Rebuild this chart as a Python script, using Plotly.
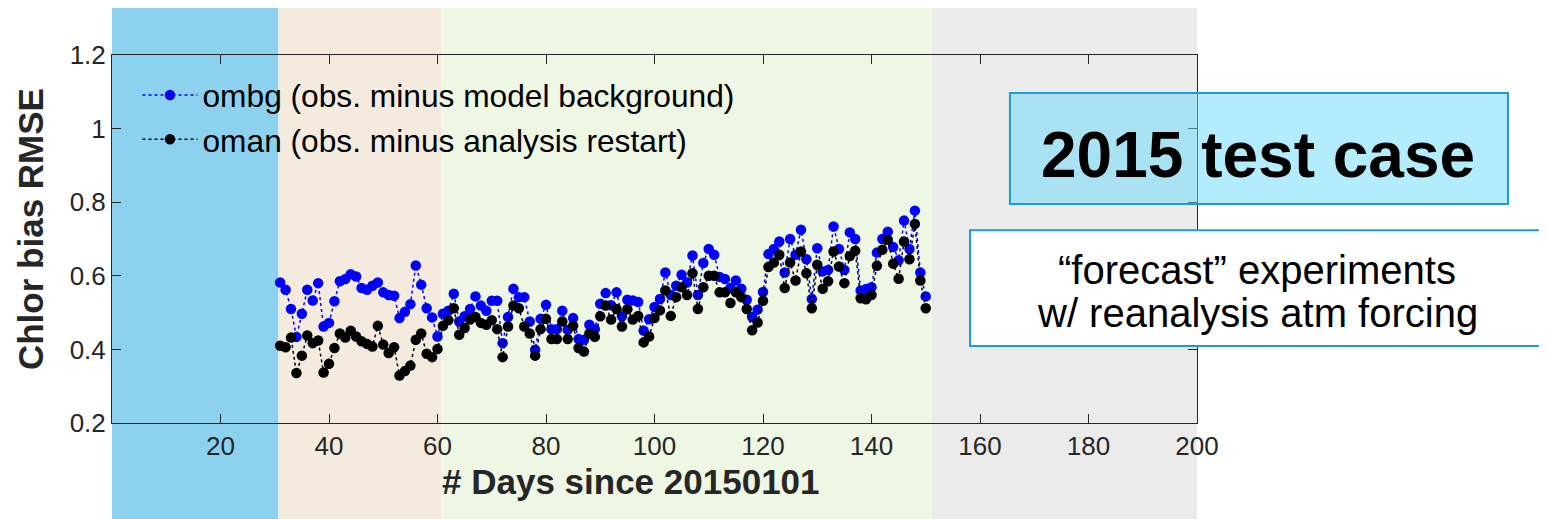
import plotly.graph_objects as go

days = list(range(31, 151))

ombg = [0.582, 0.562, 0.510, 0.434, 0.497, 0.562, 0.533, 0.580, 0.462, 0.472,
        0.531, 0.585, 0.591, 0.604, 0.598, 0.567, 0.562, 0.573, 0.582, 0.555,
        0.548, 0.546, 0.485, 0.502, 0.523, 0.628, 0.576, 0.512, 0.487, 0.435,
        0.497, 0.505, 0.551, 0.476, 0.490, 0.510, 0.544, 0.519, 0.505, 0.532,
        0.532, 0.417, 0.488, 0.565, 0.542, 0.542, 0.476, 0.399, 0.483, 0.521,
        0.455, 0.455, 0.505, 0.453, 0.485, 0.428, 0.426, 0.467, 0.455, 0.524,
        0.553, 0.520, 0.555, 0.490, 0.535, 0.533, 0.529, 0.451, 0.482, 0.515,
        0.537, 0.609, 0.548, 0.573, 0.603, 0.582, 0.655, 0.548, 0.635, 0.673,
        0.657, 0.597, 0.591, 0.567, 0.587, 0.565, 0.535, 0.488, 0.508, 0.556,
        0.659, 0.673, 0.693, 0.609, 0.700, 0.657, 0.725, 0.645, 0.537, 0.675,
        0.612, 0.616, 0.734, 0.673, 0.616, 0.718, 0.700, 0.560, 0.564, 0.569,
        0.663, 0.700, 0.720, 0.678, 0.642, 0.750, 0.673, 0.777, 0.609, 0.544]

oman = [0.410, 0.406, 0.432, 0.336, 0.383, 0.438, 0.417, 0.424, 0.337, 0.361,
        0.404, 0.443, 0.432, 0.451, 0.435, 0.422, 0.415, 0.408, 0.464, 0.413,
        0.390, 0.406, 0.329, 0.341, 0.356, 0.426, 0.443, 0.388, 0.379, 0.401,
        0.464, 0.479, 0.512, 0.440, 0.458, 0.481, 0.488, 0.472, 0.467, 0.479,
        0.455, 0.379, 0.462, 0.519, 0.512, 0.462, 0.443, 0.383, 0.455, 0.483,
        0.428, 0.428, 0.476, 0.428, 0.464, 0.404, 0.394, 0.443, 0.434, 0.490,
        0.519, 0.481, 0.510, 0.462, 0.509, 0.481, 0.491, 0.419, 0.435, 0.485,
        0.506, 0.560, 0.491, 0.542, 0.569, 0.548, 0.607, 0.510, 0.569, 0.600,
        0.600, 0.555, 0.555, 0.526, 0.555, 0.542, 0.510, 0.452, 0.473, 0.532,
        0.624, 0.636, 0.657, 0.567, 0.636, 0.587, 0.666, 0.607, 0.512, 0.630,
        0.565, 0.585, 0.666, 0.625, 0.580, 0.654, 0.668, 0.539, 0.536, 0.548,
        0.627, 0.671, 0.698, 0.633, 0.592, 0.693, 0.645, 0.741, 0.587, 0.512]

band_edges = [0, 30.7, 60.7, 151.1, 200]
band_colors = ["#8CD1EE", "#F4EBDE", "#EEF6E4", "#EBEBEB"]

x_ticks = [20, 40, 60, 80, 100, 120, 140, 160, 180, 200]
y_ticks = [0.2, 0.4, 0.6, 0.8, 1.0, 1.2]
y_ticktext = ["0.2", "0.4", "0.6", "0.8", "1", "1.2"]

FONT = "Liberation Sans, Arial, Helvetica, sans-serif"
AX = "#262626"

fig = go.Figure()
fig.add_trace(go.Scatter(
    x=days, y=ombg, mode="lines+markers",
    name="ombg (obs. minus model background)",
    line=dict(color="#0000FF", width=1.5, dash="dot"),
    marker=dict(color="#0000FF", size=10.5),
))
fig.add_trace(go.Scatter(
    x=days, y=oman, mode="lines+markers",
    name="oman (obs. minus analysis restart)",
    line=dict(color="#000000", width=1.5, dash="dot"),
    marker=dict(color="#000000", size=10.5),
))

shapes = []
for i, c in enumerate(band_colors):
    shapes.append(dict(type="rect", xref="x", yref="paper",
                       x0=band_edges[i], x1=band_edges[i + 1],
                       y0=-0.261, y1=1.13, fillcolor=c, line=dict(width=0),
                       layer="below"))
# annotation boxes (paper coords)
shapes.append(dict(type="rect", xref="paper", yref="paper",
                   x0=0.8276, x1=1.2866, y0=0.595, y1=0.897,
                   fillcolor="rgba(103,217,249,0.5)",
                   line=dict(color="#1E9BD7", width=2), layer="above"))
shapes.append(dict(type="rect", xref="paper", yref="paper",
                   x0=0.7908, x1=1.3215, y0=0.209, y1=0.524,
                   fillcolor="#FFFFFF",
                   line=dict(color="#1E9BD7", width=2), layer="above"))

annotations = [
    dict(text="<b>Chlor bias RMSE</b>", xref="paper", yref="paper",
         x=-0.0756, y=0.527, textangle=-90, showarrow=False,
         xanchor="center", yanchor="middle",
         font=dict(family=FONT, size=35, color=AX)),
    dict(text="<b># Days since 20150101</b>", xref="paper", yref="paper",
         x=0.478, y=-0.160, showarrow=False, xanchor="center", yanchor="middle",
         font=dict(family=FONT, size=35, color=AX)),
    dict(text="<b>2015 test case</b>", xref="paper", yref="paper",
         x=1.0562, y=0.728, showarrow=False, xanchor="center", yanchor="middle",
         font=dict(family=FONT, size=64, color="#000000")),
    dict(text="\u201cforecast\u201d experiments",
         xref="paper", yref="paper", x=1.0553, y=0.4158, showarrow=False,
         xanchor="center", yanchor="middle",
         font=dict(family=FONT, size=40, color="#000000")),
    dict(text="w/ reanalysis atm forcing",
         xref="paper", yref="paper", x=1.0553, y=0.2989, showarrow=False,
         xanchor="center", yanchor="middle",
         font=dict(family=FONT, size=40, color="#000000")),
]

fig.update_layout(
    width=1539, height=511,
    margin=dict(l=104, r=350, t=47, b=96, pad=0),
    paper_bgcolor="#FFFFFF", plot_bgcolor="rgba(0,0,0,0)",
    shapes=shapes, annotations=annotations,
    showlegend=True,
    legend=dict(x=0.0235, y=0.965, xanchor="left", yanchor="top",
                bgcolor="rgba(0,0,0,0)", borderwidth=0,
                font=dict(family=FONT, size=31.7, color="#000000"),
                itemwidth=55),
    font=dict(family=FONT),
)
fig.update_xaxes(range=[0, 200], tickvals=x_ticks, ticks="inside", ticklen=9,
                 tickcolor=AX, showline=True, linecolor=AX, linewidth=1,
                 mirror="ticks", showgrid=False, zeroline=False,
                 tickfont=dict(family=FONT, size=26, color=AX))
fig.update_yaxes(range=[0.2, 1.2], tickvals=y_ticks, ticktext=y_ticktext,
                 ticks="inside", ticklen=9, tickcolor=AX, showline=True,
                 linecolor=AX, linewidth=1, mirror="ticks", showgrid=False,
                 zeroline=False, tickfont=dict(family=FONT, size=26, color=AX))

fig.write_html("out.html")
